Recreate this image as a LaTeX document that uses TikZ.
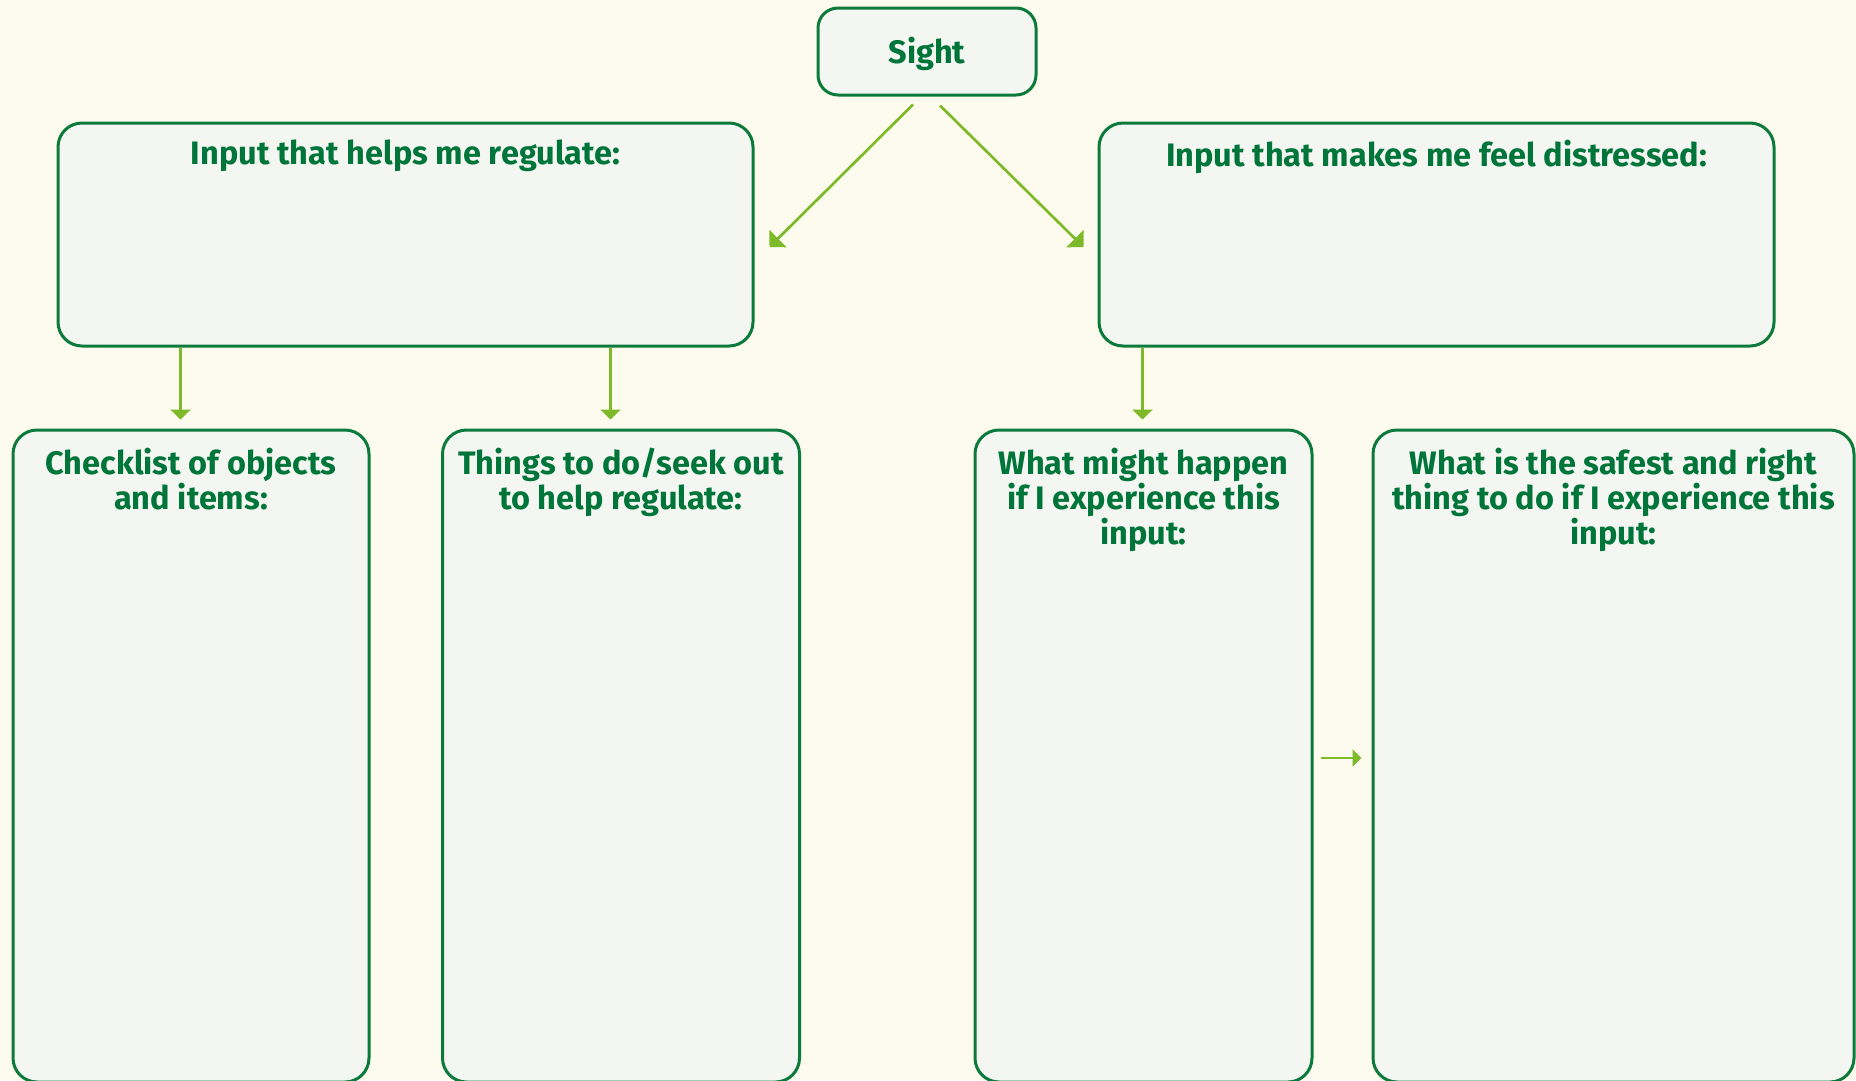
\documentclass[tikz,border=0pt]{standalone}
\usepackage{fontspec}
\setmainfont{Fira Sans}
\usetikzlibrary{calc,arrows.meta}

\definecolor{paper}{HTML}{FDFBEE}
\definecolor{boxfill}{HTML}{F4F6F2}
\definecolor{boxline}{HTML}{0B7A3B}
\definecolor{txtgreen}{HTML}{00753A}
\definecolor{arrgreen}{HTML}{7DB928}

\begin{document}
\begin{tikzpicture}[x=1pt,y=-1pt,
  box/.style={draw=boxline,fill=boxfill,line width=3pt,rounded corners=24pt,inner sep=0pt},
  title/.style={text=txtgreen,font=\fontsize{32.5}{35}\selectfont\bfseries,align=center,anchor=north,inner sep=0pt},
  arr/.style={draw=arrgreen,line width=2.7pt,-{Triangle[width=20pt,length=10pt]}}]
\useasboundingbox[fill=paper] (0,0) rectangle (1856,1080);
\clip (0,0) rectangle (1856,1080);

% top row
\node[box,rounded corners=20pt,minimum width=218pt,minimum height=87pt] (sight) at (927,51.5) {};
\node[title,anchor=base] (sight-t) at ($(sight.center)+(0,12)$) {Sight};
\node[box,minimum width=695pt,minimum height=223pt] (help) at (405.5,234.5) {};
\node[box,minimum width=675pt,minimum height=223pt] (distress) at (1436.5,234.5) {};
\node[title] (help-t) at ($(help.north)+(0,18)$) {Input that helps me regulate:};
\node[title] (distress-t) at ($(distress.north)+(0,18)$) {Input that makes me feel distressed:};

% bottom row
\node[box,minimum width=356pt,minimum height=652pt] (check) at (191,756) {};
\node[box,minimum width=357pt,minimum height=652pt] (todo) at (621,756) {};
\node[box,minimum width=337pt,minimum height=652pt] (happen) at (1143.5,756) {};
\node[box,minimum width=481pt,minimum height=652pt] (safe) at (1613.5,756) {};
\node[title] (check-t) at ($(check.north)+(0,19)$) {Checklist of objects\\and items:};
\node[title] (todo-t) at ($(todo.north)+(0,19)$) {Things to do/seek out\\to help regulate:};
\node[title] (happen-t) at ($(happen.north)+(0,19)$) {What might happen\\if I experience this\\input:};
\node[title] (safe-t) at ($(safe.north)+(0,19)$) {What is the safest and right\\thing to do if I experience this\\input:};

% arrows
\draw[arr,-{Triangle[width=24pt,length=12pt]}] ($(sight.south)+(-14,8)$) -- ($(help.east)+(15,12.5)$);
\draw[arr,-{Triangle[width=24pt,length=12pt]}] ($(sight.south)+(13,9)$) -- ($(distress.west)+(-14,12.5)$);
\coordinate (h1) at ($(help.south west)+(124,0)$);
\coordinate (h2) at ($(help.south west)+(554,0)$);
\coordinate (d1) at ($(distress.south west)+(45,0)$);
\draw[arr,shorten >=9pt] (h1) -- (h1 |- check.north);
\draw[arr,shorten >=9pt] (h2) -- (h2 |- todo.north);
\draw[arr,shorten >=9pt] (d1) -- (d1 |- happen.north);
\draw[arr,shorten <=7pt,shorten >=10pt,-{Triangle[width=17pt,length=9pt]}]
  ([yshift=-2pt]happen.east) -- ([yshift=-2pt]safe.west);
\end{tikzpicture}
\end{document}
